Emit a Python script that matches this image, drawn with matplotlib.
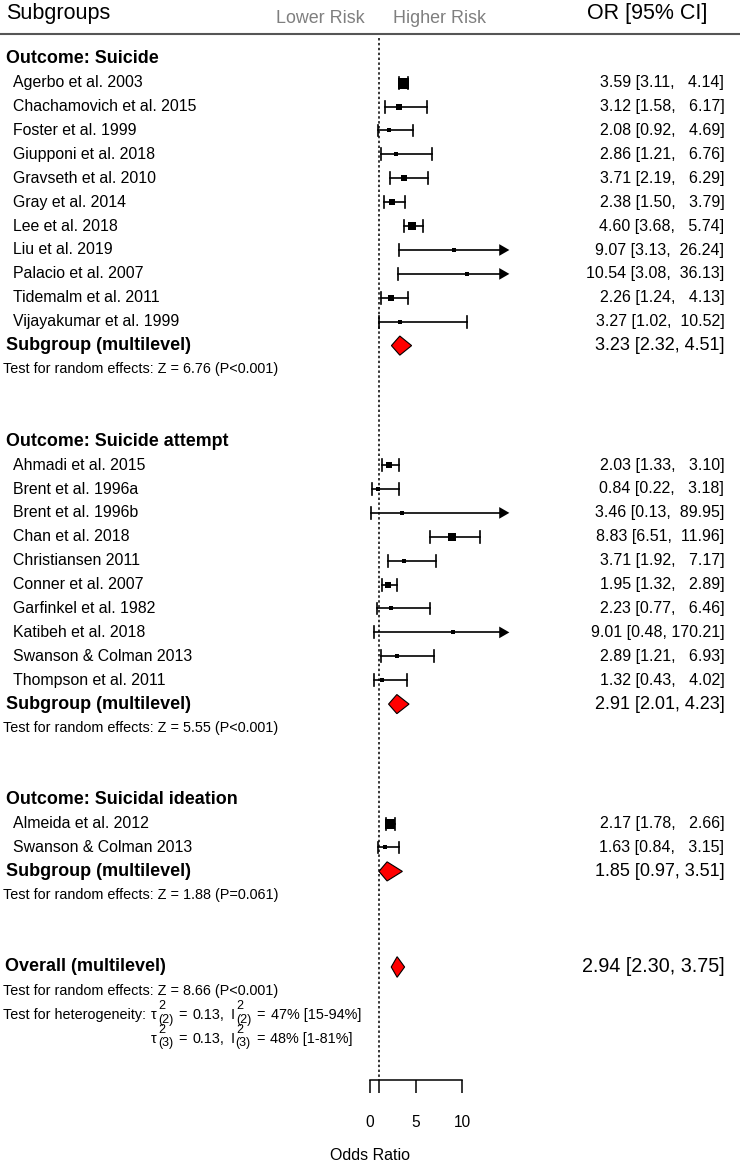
import matplotlib
matplotlib.use("Agg")
import matplotlib.pyplot as plt
import matplotlib.transforms as mtransforms

plt.rcParams['font.family'] = ['Liberation Sans', 'DejaVu Sans']

# ---- data ----
suicide_names = ["Agerbo et al. 2003", "Chachamovich et al. 2015", "Foster et al. 1999",
                 "Giupponi et al. 2018", "Gravseth et al. 2010", "Gray et al. 2014",
                 "Lee et al. 2018", "Liu et al. 2019", "Palacio et al. 2007",
                 "Tidemalm et al. 2011", "Vijayakumar et al. 1999"]
suicide_or = [3.59, 3.12, 2.08, 2.86, 3.71, 2.38, 4.60, 9.07, 10.54, 2.26, 3.27]
suicide_lo = [3.11, 1.58, 0.92, 1.21, 2.19, 1.50, 3.68, 3.13, 3.08, 1.24, 1.02]
suicide_hi = [4.14, 6.17, 4.69, 6.76, 6.29, 3.79, 5.74, 26.24, 36.13, 4.13, 10.52]
suicide_wt = [1.0, 0.47, 0.45, 0.42, 0.5, 0.55, 0.78, 0.38, 0.38, 0.47, 0.38]
suicide_pooled = [3.23, 2.32, 4.51]
suicide_test = "Test for random effects: Z = 6.76 (P<0.001)"

attempt_names = ["Ahmadi et al. 2015", "Brent et al. 1996a", "Brent et al. 1996b",
                 "Chan et al. 2018", "Christiansen 2011", "Conner et al. 2007",
                 "Garfinkel et al. 1982", "Katibeh et al. 2018", "Swanson & Colman 2013",
                 "Thompson et al. 2011"]
attempt_or = [2.03, 0.84, 3.46, 8.83, 3.71, 1.95, 2.23, 9.01, 2.89, 1.32]
attempt_lo = [1.33, 0.22, 0.13, 6.51, 1.92, 1.32, 0.77, 0.48, 1.21, 0.43]
attempt_hi = [3.10, 3.18, 89.95, 11.96, 7.17, 2.89, 6.46, 170.21, 6.93, 4.02]
attempt_wt = [0.57, 0.38, 0.3, 0.64, 0.44, 0.6, 0.38, 0.3, 0.44, 0.38]
attempt_pooled = [2.91, 2.01, 4.23]
attempt_test = "Test for random effects: Z = 5.55 (P<0.001)"

ideation_names = ["Almeida et al. 2012", "Swanson & Colman 2013"]
ideation_or = [2.17, 1.63]
ideation_lo = [1.78, 0.84]
ideation_hi = [2.66, 3.15]
ideation_wt = [0.82, 0.44]
ideation_pooled = [1.85, 0.97, 3.51]
ideation_test = "Test for random effects: Z = 1.88 (P=0.061)"

overall_pooled = [2.94, 2.30, 3.75]
overall_test = "Test for random effects: Z = 8.66 (P<0.001)"
het_label = "Test for heterogeneity:"
het_level2 = ["0.13", "47% [15-94%]"]
het_level3 = ["0.13", "48% [1-81%]"]

x_ticks = [0, 1, 5, 10]
x_ticklabels = ["0", "", "5", "10"]
clip_at = 15

# ---- layout ----
W, H = 740, 1166
ROW = 23.9
TOP = 58.8
fig = plt.figure(figsize=(W / 100, H / 100), dpi=100)
ax = fig.add_axes([0, 0, 1, 1])
ax.set_xlim(-370 / 9.23, (W - 370) / 9.23)
ax.set_ylim((H - TOP) / ROW, -TOP / ROW)
for s in ['left', 'right', 'top']:
    ax.spines[s].set_visible(False)
ax.set_yticks([])
ax.patch.set_visible(False)

tr = mtransforms.blended_transform_factory(ax.transAxes, ax.transData)
renderer = fig.canvas.get_renderer()


def px(x):
    return x / W


def row_of(ypx):
    return (ypx - TOP) / ROW


cap = 0.25
half_d = 0.4


def diamond(r, est, lo, hi, h=half_d):
    ax.fill([lo, est, hi, est], [r, r - h, r, r + h], facecolor='#ff0000',
            edgecolor='black', linewidth=0.8, zorder=3)


def draw_group(r0, title, names, ors, los, his, wts, pooled, test):
    ax.text(px(6), r0, title, transform=tr, fontsize=12.9, fontweight='bold',
            va='center', ha='left')
    for i, name in enumerate(names):
        r = r0 + 1 + i
        o, l, h = ors[i], los[i], his[i]
        ax.text(px(13.3), r, name, transform=tr, fontsize=11.4, va='center', ha='left')
        ax.text(px(724.3), r, f"{o:.2f} [{l:.2f}, {h:>6.2f}]", transform=tr,
                fontsize=11.5, va='center', ha='right')
        end = min(h, clip_at)
        if h > clip_at:
            ax.plot([l, end - 0.9], [r, r], color='black', lw=1.2)
            ax.fill([end - 1.0, end + 0.1, end - 1.0], [r - 0.245, r, r + 0.245],
                    color='black', lw=0)
        else:
            ax.plot([l, h], [r, r], color='black', lw=1.2)
            ax.plot([h, h], [r - cap, r + cap], color='black', lw=1.2)
        ax.plot([l, l], [r - cap, r + cap], color='black', lw=1.2)
        ax.plot(o, r, marker='s', ms=11 * 0.72 * wts[i], color='black', mew=0, zorder=3)
    rp = r0 + len(names) + 1
    ax.text(px(6), rp, "Subgroup (multilevel)", transform=tr, fontsize=13,
            fontweight='bold', va='center', ha='left')
    ax.text(px(724.3), rp, f"{pooled[0]:.2f} [{pooled[1]:.2f}, {pooled[2]:.2f}]",
            transform=tr, fontsize=13, va='center', ha='right')
    diamond(rp, *pooled)
    ax.text(px(3.3), rp + 1, test, transform=tr, fontsize=10.4, va='center', ha='left')
    return rp + 4


def put(x, y, s, fs):
    t = ax.text(px(x), y, s, transform=tr, fontsize=fs, va='baseline', ha='left')
    return t.get_window_extent(renderer).width


def tau_line(x, r, level, vals, fs=10.4, sfs=9.0):
    # "τ²(k) = v, I²(k) = w" with stacked super/subscripts
    base = r + 4.6 / ROW
    sp = 0.278 * fs / 0.72 + 1.5
    for sym, val in zip(["τ", "I"], vals):
        x += put(x, base, sym, fs) + 0.8
        w1 = put(x + 0.5, base - 10.0 / ROW, "2", sfs)
        w2 = put(x, base + 3.2 / ROW, f"({level})", sfs)
        x += max(w1, w2) + sp
        x += put(x, base, "=", fs) + sp
        tail = val + ("," if sym == "τ" else "")
        x += put(x, base, tail, fs) + sp + 1


r = draw_group(0, "Outcome: Suicide", suicide_names, suicide_or, suicide_lo,
               suicide_hi, suicide_wt, suicide_pooled, suicide_test)
r = draw_group(r, "Outcome: Suicide attempt", attempt_names, attempt_or, attempt_lo,
               attempt_hi, attempt_wt, attempt_pooled, attempt_test)
r = draw_group(r, "Outcome: Suicidal ideation", ideation_names, ideation_or, ideation_lo,
               ideation_hi, ideation_wt, ideation_pooled, ideation_test)

# overall
ax.text(px(5), r, "Overall (multilevel)", transform=tr, fontsize=13,
        fontweight='bold', va='center', ha='left')
ax.text(px(724.3), r, f"{overall_pooled[0]:.2f} [{overall_pooled[1]:.2f}, {overall_pooled[2]:.2f}]",
        transform=tr, fontsize=14.2, va='center', ha='right')
diamond(r, *overall_pooled, h=0.43)
ax.text(px(3.3), r + 1, overall_test, transform=tr, fontsize=10.4, va='center')
xt = 3.3 + put(3.3, r + 2 + 4.6 / ROW, het_label, 10.4) + 0.278 * 10.4 / 0.72 + 1
tau_line(xt, r + 2, 2, het_level2)
tau_line(xt, r + 3, 3, het_level3)

# header
y_axis = row_of(1080)
ax.text(px(6), row_of(14), "Subgroups", transform=tr, fontsize=15.5,
        va='center', ha='left')
ax.text(px(707.3), row_of(14), "OR [95% CI]", transform=tr, fontsize=15.5,
        va='center', ha='right')
ax.text(px(365), row_of(18.3), "Lower Risk", transform=tr, fontsize=12.9,
        color='#7f7f7f', va='center', ha='right')
ax.text(px(393.3), row_of(18.3), "Higher Risk", transform=tr, fontsize=12.9,
        color='#7f7f7f', va='center', ha='left')
ax.axhline(row_of(34.3), color='#555555', lw=1.5)

# reference line at OR = 1
ax.vlines(1, row_of(38), y_axis, colors='black', linestyles=(0, (1.6, 1.6)), lw=1.1)

# x axis
ax.spines['bottom'].set_position(('data', y_axis))
ax.spines['bottom'].set_bounds(0, 10)
ax.spines['bottom'].set_linewidth(1.1)
ax.set_xticks(x_ticks)
ax.set_xticklabels(x_ticklabels)
ax.tick_params(axis='x', direction='out', length=9.5, width=1.1, pad=16, labelsize=11.2)
ax.set_xlabel("Odds Ratio", fontsize=11.5, labelpad=13)

plt.savefig('out.png', dpi=100)
